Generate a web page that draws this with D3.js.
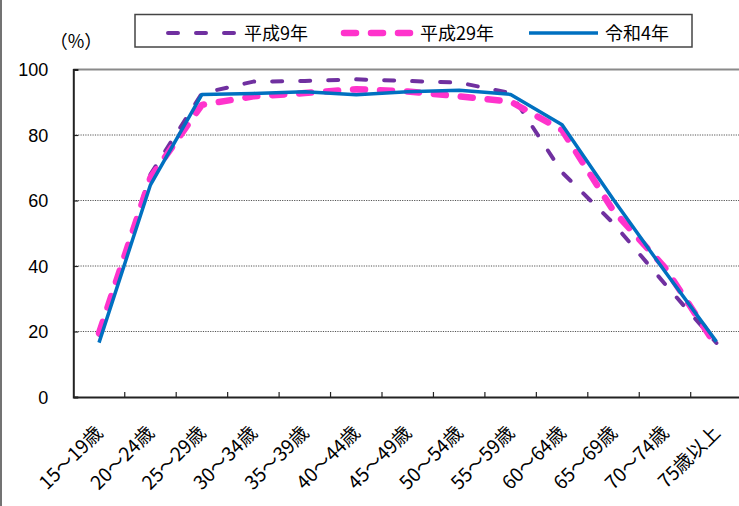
<!DOCTYPE html>
<html><head><meta charset="utf-8">
<script src="https://cdn.jsdelivr.net/npm/d3@7/dist/d3.min.js"></script>
<style>html,body{margin:0;padding:0;background:#fff;}svg{display:block;}</style>
</head><body>
<svg id="chart" width="739" height="506"></svg>
<script>
const categories = ["15～19歳","20～24歳","25～29歳","30～34歳","35～39歳","40～44歳","45～49歳","50～54歳","55～59歳","60～64歳","65～69歳","70～74歳","75歳以上"];
const seriesNames = ["平成9年","平成29年","令和4年"];
const h9  = [19.0, 68.0, 92.7, 96.3, 96.5, 97.0, 96.5, 96.0, 92.8, 68.6, 53.0, 34.5, 16.5];
const h29 = [19.5, 67.0, 89.2, 91.8, 92.8, 94.0, 93.3, 91.8, 90.2, 81.5, 56.8, 39.5, 15.5];
const r4  = [16.6, 64.8, 92.4, 92.7, 93.2, 92.3, 93.2, 93.7, 92.4, 83.1, 60.2, 38.3, 16.9];
const yTicks = [0, 20, 40, 60, 80, 100];

const svg = d3.select("#chart");
const W = 739, H = 506;
svg.append("rect").attr("width", W).attr("height", H).attr("fill", "#fff");

const plotLeft = 73.3, plotTop = 69.5, plotBottom = 397, step = 51.45;
const x = d3.scaleBand().domain(categories).range([plotLeft, plotLeft + step * categories.length]).paddingInner(0).paddingOuter(0);
const y = d3.scaleLinear().domain([0, 100]).range([plotBottom, plotTop]);

// frame left edge line
svg.append("line").attr("x1", 1).attr("x2", 1).attr("y1", 0).attr("y2", H).attr("stroke", "#444").attr("stroke-width", 1.5);

// gridlines
const gridVals = yTicks.filter(v => v > 0 && v < 100);
svg.append("g").selectAll("line").data(gridVals).join("line")
  .attr("x1", plotLeft).attr("x2", W).attr("y1", d => y(d)).attr("y2", d => y(d))
  .attr("stroke", "#555").attr("stroke-width", 1).attr("stroke-dasharray", "1.2,1.2");
// top border at 100
svg.append("line").attr("x1", plotLeft).attr("x2", W).attr("y1", y(100)).attr("y2", y(100))
  .attr("stroke", "#8a8a8a").attr("stroke-width", 2);

// y axis
const yAxis = d3.axisLeft(y).tickValues(yTicks).tickSize(-5).tickPadding(25).tickFormat(d3.format("d"));
const gy = svg.append("g").attr("transform", `translate(${plotLeft},0)`).call(yAxis);
gy.select(".domain").attr("stroke", "#222").attr("stroke-width", 2);
gy.selectAll(".tick line").attr("stroke", "#222").attr("stroke-width", 1.2);
gy.selectAll(".tick text").attr("font-family", "'Liberation Sans', Arial, sans-serif").attr("font-size", 18).attr("fill", "#000").attr("dy", "0.34em");

// x axis
const xAxis = d3.axisBottom(x).tickSize(0).tickFormat("");
const gx = svg.append("g").attr("transform", `translate(0,${plotBottom})`).call(xAxis);
gx.select(".domain").attr("stroke", "#222").attr("stroke-width", 2);
// boundary ticks (inward)
const bounds = d3.range(1, categories.length).map(i => x(categories[i]));
svg.append("g").selectAll("line").data(bounds).join("line")
  .attr("x1", d => d).attr("x2", d => d).attr("y1", plotBottom - 5).attr("y2", plotBottom)
  .attr("stroke", "#222").attr("stroke-width", 1.2);
// category labels
svg.append("g").selectAll("text").data(categories).join("text")
  .attr("transform", d => `translate(${x(d) + x.bandwidth() / 2 + 5},${plotBottom + 37}) rotate(-45)`)
  .attr("text-anchor", "end")
  .attr("font-family", "'Noto Sans CJK JP', sans-serif").attr("font-size", 19).attr("fill", "#000")
  .text(d => d);

// (%) label
svg.append("text").attr("x", 76).attr("y", 48).attr("text-anchor", "middle")
  .attr("font-family", "'Noto Sans CJK JP', sans-serif").attr("font-size", 18).attr("fill", "#000").text("（%）");

// lines
const cx = d => x(d) + x.bandwidth() / 2;
const lineGen = vals => d3.line().x((v, i) => cx(categories[i])).y(v => y(v))(vals);
const styles = [
  {vals: h9,  color: "#7030A0", width: 4,   dash: "10,18", cap: "round"},
  {vals: h29, color: "#FF33CC", width: 6.5, dash: "12,15", cap: "round"},
  {vals: r4,  color: "#0070C0", width: 3.5, dash: null,    cap: "butt"}
];
styles.forEach(s => {
  svg.append("path").attr("d", lineGen(s.vals)).attr("fill", "none")
    .attr("stroke", s.color).attr("stroke-width", s.width)
    .attr("stroke-dasharray", s.dash).attr("stroke-linecap", s.cap).attr("stroke-linejoin", "round");
});

// legend
const lg = svg.append("g");
lg.append("rect").attr("x", 135).attr("y", 14.5).attr("width", 557).attr("height", 32.5)
  .attr("fill", "#fff").attr("stroke", "#444").attr("stroke-width", 1.5);
const legPos = [{x1: 168, x2: 236, tx: 244}, {x1: 344, x2: 411, tx: 420}, {x1: 529, x2: 598, tx: 605}];
seriesNames.forEach((n, i) => {
  const s = styles[i], p = legPos[i];
  lg.append("line").attr("x1", p.x1).attr("x2", p.x2).attr("y1", 33).attr("y2", 33)
    .attr("stroke", s.color).attr("stroke-width", s.width)
    .attr("stroke-dasharray", s.dash).attr("stroke-linecap", s.cap);
  lg.append("text").attr("x", p.tx).attr("y", 39.5)
    .attr("font-family", "'Noto Sans CJK JP', sans-serif").attr("font-size", 18).attr("fill", "#000").text(n);
});
</script>
</body></html>
